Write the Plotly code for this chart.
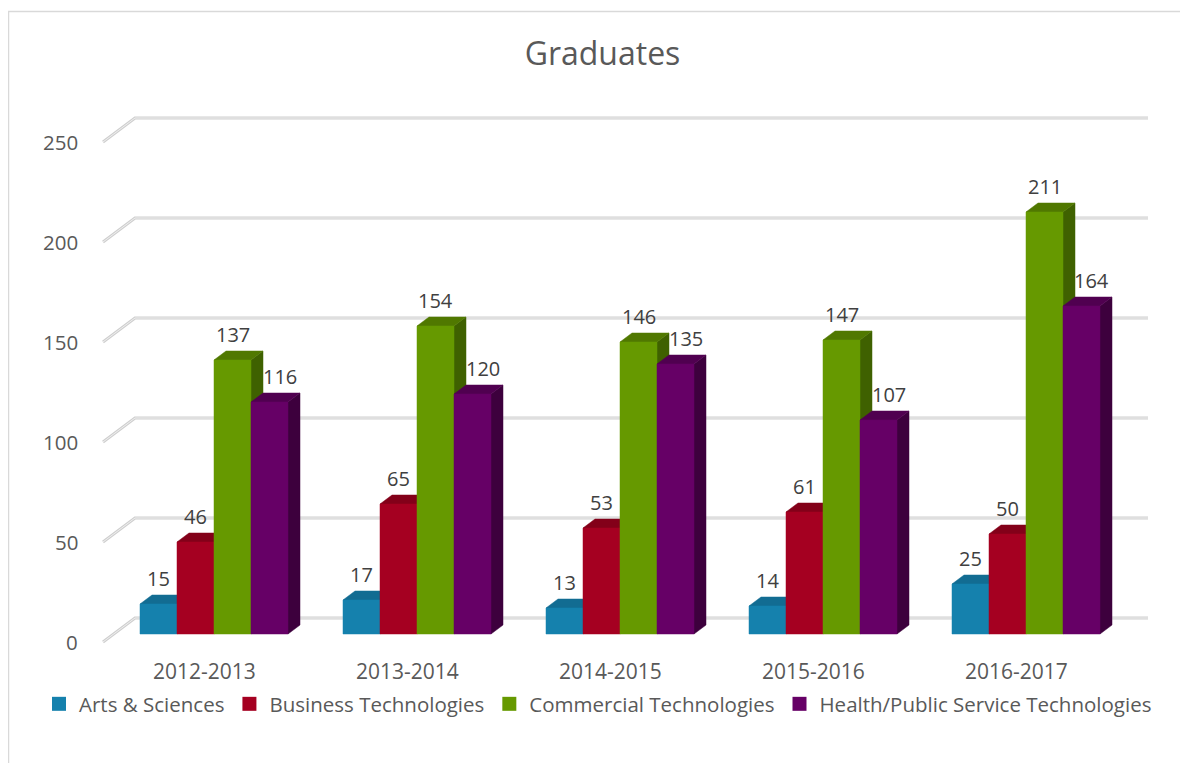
import plotly.graph_objects as go

# ---------------- data ----------------
years = ["2012-2013", "2013-2014", "2014-2015", "2015-2016", "2016-2017"]
series_names = ["Arts & Sciences", "Business Technologies",
                "Commercial Technologies", "Health/Public Service Technologies"]
arts = [15, 17, 13, 14, 25]
business = [46, 65, 53, 61, 50]
commercial = [137, 154, 146, 147, 211]
health = [116, 120, 135, 107, 164]
y_ticks = [0, 50, 100, 150, 200, 250]

series_values = [arts, business, commercial, health]

# ---------------- style ----------------
front_colors = ["#1581ad", "#a50021", "#669900", "#660066"]
top_colors = ["#126c92", "#830019", "#507800", "#500050"]
side_colors = ["#0e5775", "#6c0015", "#3f6100", "#3d003d"]
label_xshift = [0, 0, 0, 10]
FONT = "Open Sans"

OFF = 8                      # page body margin
W, H = 1180, 755
# pixel mapping helpers (layout geometry of the pseudo-3D frame)
PX0, PXS = 214.0 - OFF, 203.0   # x pixel of group centre 0, pixels per category
PY0, PYS = 634.0 - OFF, 2.0     # y pixel of value 0 on bar front plane, px per unit
bar_w = 37.0 / PXS
dx = 12.0 / PXS              # bar depth (x)
dy = 9.0 / PYS               # bar depth (y, value units)
n_series = len(series_values)

x_range = [-PX0 / PXS, (W - PX0) / PXS]
y_range = [(PY0 - H) / PYS, PY0 / PYS]

def px_to_x(px):
    return (px - OFF - PX0) / PXS

fig = go.Figure()

# ---------------- back wall gridlines ----------------
wall_front_x = px_to_x(103)
wall_back_x = px_to_x(135)
wall_end_x = px_to_x(1148)
for v in y_ticks:
    fig.add_trace(go.Scatter(
        x=[wall_front_x, wall_back_x, wall_end_x],
        y=[v - 4, v + 8, v + 8],
        mode="lines", line=dict(color="#cfcfcf", width=3),
        hoverinfo="skip", showlegend=False))
    fig.add_trace(go.Scatter(
        x=[wall_front_x, wall_back_x, wall_end_x],
        y=[v - 4, v + 8, v + 8],
        mode="lines", line=dict(color="#efefef", width=1),
        hoverinfo="skip", showlegend=False))

# ---------------- 3D bars ----------------
annotations = []
for i, yr in enumerate(years):
    for j in range(n_series):
        v = series_values[j][i]
        x0 = i - n_series * bar_w / 2 + j * bar_w
        x1 = x0 + bar_w
        # side face
        fig.add_trace(go.Scatter(
            x=[x1, x1 + dx, x1 + dx, x1, x1],
            y=[0, dy, v + dy, v, 0],
            fill="toself", fillcolor=side_colors[j], mode="lines",
            line=dict(color=side_colors[j], width=0.5),
            hoverinfo="skip", showlegend=False))
        # top face
        fig.add_trace(go.Scatter(
            x=[x0, x0 + dx, x1 + dx, x1, x0],
            y=[v, v + dy, v + dy, v, v],
            fill="toself", fillcolor=top_colors[j], mode="lines",
            line=dict(color=top_colors[j], width=0.5),
            hoverinfo="skip", showlegend=False))
        # front face
        fig.add_trace(go.Scatter(
            x=[x0, x0, x1, x1, x0],
            y=[0, v, v, 0, 0],
            fill="toself", fillcolor=front_colors[j], mode="lines",
            line=dict(color=front_colors[j], width=0.5),
            name=series_names[j], hovertemplate=f"{series_names[j]}<br>{yr}: {v}<extra></extra>",
            showlegend=False))
        annotations.append(dict(
            x=(x0 + x1) / 2, y=v + 13, text=str(v), showarrow=False,
            xshift=label_xshift[j], xanchor="center", yanchor="middle",
            font=dict(family=FONT, size=20, color="#404040")))

# ---------------- legend entries ----------------
for j in range(n_series):
    fig.add_trace(go.Scatter(
        x=[None], y=[None], mode="markers", name=series_names[j],
        marker=dict(symbol="square", size=14, color=front_colors[j]),
        showlegend=True))

# ---------------- axis labels ----------------
for v in y_ticks:
    annotations.append(dict(
        x=px_to_x(80), y=v - 4, text=str(v), showarrow=False,
        xanchor="right", yanchor="middle",
        font=dict(family=FONT, size=20.5, color="#595959")))
for i, yr in enumerate(years):
    annotations.append(dict(
        x=i - 9.5 / PXS, y=-18.5, text=yr, showarrow=False,
        xanchor="center", yanchor="middle",
        font=dict(family=FONT, size=21, color="#595959")))

fig.update_layout(
    width=W, height=H,
    margin=dict(l=0, r=0, t=0, b=0),
    paper_bgcolor="white", plot_bgcolor="white",
    title=dict(text="Graduates", x=(602.5 - OFF) / W, y=1 - (54 - OFF) / H,
               xanchor="center", yanchor="middle",
               font=dict(family=FONT, size=32, color="#595959")),
    xaxis=dict(range=x_range, visible=False, fixedrange=True),
    yaxis=dict(range=y_range, visible=False, fixedrange=True),
    showlegend=True,
    legend=dict(orientation="h", x=(598 - OFF) / W, xanchor="center",
                y=1 - (704 - OFF) / H, yanchor="middle",
                font=dict(family=FONT, size=20.5, color="#595959"),
                itemwidth=30, tracegroupgap=0, bgcolor="rgba(0,0,0,0)"),
    annotations=annotations,
    shapes=[
        dict(type="line", xref="paper", yref="paper",
             x0=0, x1=1, y0=1 - (11.5 - OFF) / H, y1=1 - (11.5 - OFF) / H,
             line=dict(color="#d9d9d9", width=1.5)),
        dict(type="line", xref="paper", yref="paper",
             x0=0.5 / W, x1=0.5 / W, y0=0, y1=1 - (11.5 - OFF) / H,
             line=dict(color="#d9d9d9", width=1.5)),
    ],
)

fig.write_html("out.html")
